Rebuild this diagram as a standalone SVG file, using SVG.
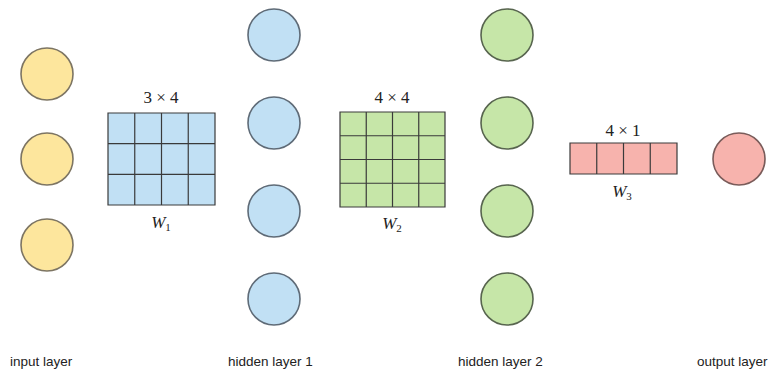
<svg xmlns="http://www.w3.org/2000/svg" width="780" height="376" viewBox="0 0 780 376">
<style>
.n{stroke-width:1.6}
.y{fill:#fde69d;stroke:#7d7563}
.b{fill:#c1e0f4;stroke:#5f6b77}
.g{fill:#c6e6a8;stroke:#58654f}
.p{fill:#f7b3ad;stroke:#7a5c5a}
.grid{stroke:#3a3a3a;stroke-width:1.2;fill:none}
.lab{font-family:"Liberation Sans",Arial,sans-serif;font-size:13.5px;fill:#222}
.m{font-family:"Liberation Serif","Times New Roman",serif;font-size:17px;fill:#222;text-anchor:middle}
.s{font-size:11px}
</style>
<rect width="780" height="376" fill="#fff"/>
<g id="input-layer">
<circle class="n y" cx="47" cy="74" r="26"/>
<circle class="n y" cx="47" cy="159" r="26"/>
<circle class="n y" cx="47" cy="245" r="26"/>
</g>
<g id="hidden-layer-1">
<circle class="n b" cx="274" cy="35" r="26"/>
<circle class="n b" cx="274" cy="123" r="26"/>
<circle class="n b" cx="274" cy="211" r="26"/>
<circle class="n b" cx="274" cy="299" r="26"/>
</g>
<g id="hidden-layer-2">
<circle class="n g" cx="507" cy="35" r="26"/>
<circle class="n g" cx="507" cy="123" r="26"/>
<circle class="n g" cx="507" cy="211" r="26"/>
<circle class="n g" cx="507" cy="299" r="26"/>
</g>
<g id="output-layer">
<circle class="n p" cx="739" cy="159" r="26"/>
</g>
<g id="W1">
<text class="m" x="161" y="103">3 × 4</text>
<rect x="108" y="113" width="107" height="92" fill="#c1e0f4"/>
<path class="grid" d="M108 113h107v92h-107z M134.75 113v92 M161.5 113v92 M188.25 113v92 M108 143.7h107 M108 174.3h107"/>
<text class="m" x="161" y="228"><tspan font-style="italic">W</tspan><tspan class="s" dy="3">1</tspan></text>
</g>
<g id="W2">
<text class="m" x="392" y="103">4 × 4</text>
<rect x="340" y="112" width="105" height="95" fill="#c6e6a8"/>
<path class="grid" d="M340 112h105v95h-105z M366.25 112v95 M392.5 112v95 M418.75 112v95 M340 135.75h105 M340 159.5h105 M340 183.25h105"/>
<text class="m" x="392" y="229"><tspan font-style="italic">W</tspan><tspan class="s" dy="3">2</tspan></text>
</g>
<g id="W3">
<text class="m" x="623" y="136">4 × 1</text>
<rect x="570" y="143" width="107" height="31" fill="#f7b3ad"/>
<path class="grid" d="M570 143h107v31h-107z M596.75 143v31 M623.5 143v31 M650.25 143v31"/>
<text class="m" x="622" y="197"><tspan font-style="italic">W</tspan><tspan class="s" dy="3">3</tspan></text>
</g>
<g id="labels">
<text class="lab" x="10" y="366">input layer</text>
<text class="lab" x="228" y="366">hidden layer 1</text>
<text class="lab" x="458" y="366">hidden layer 2</text>
<text class="lab" x="697" y="366">output layer</text>
</g>
<g id="connectors"></g>
</svg>
